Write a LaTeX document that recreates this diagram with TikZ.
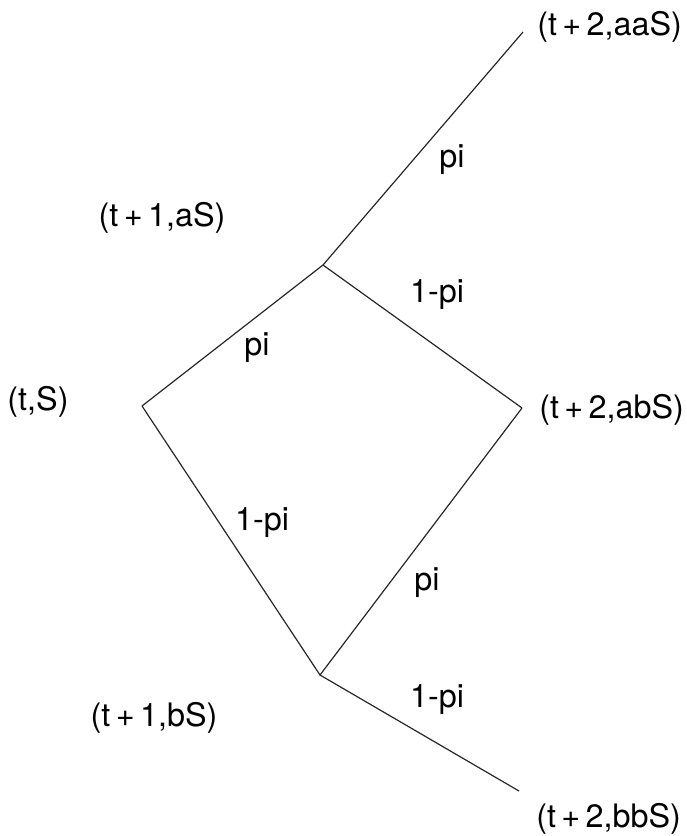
\documentclass[tikz,border=0pt]{standalone}
\usepackage{fontspec}
\setmainfont{TeX Gyre Heros}
\usetikzlibrary{positioning}

\tikzset{
  branch/.style={black!85,line width=0.85pt},
  state/.style={font=\fontsize{23}{27}\selectfont,inner sep=0pt},
  prob/.style={font=\fontsize{23}{27}\selectfont,inner sep=0pt}
}

\begin{document}
\begin{tikzpicture}[x=0.025cm,y=-0.025cm]

  \useasboundingbox (0,0) rectangle (686,836);

  % Tree vertices
  \coordinate (root) at (142,406);
  \coordinate (up)   at (323,265);
  \coordinate (dn)   at (320,675);
  \coordinate (uu)   at (523,32);
  \coordinate (ud)   at (522,408);
  \coordinate (dd)   at (519,791);

  % Branches
  \draw[branch] (root) -- (up) -- (uu);
  \draw[branch] (up) -- (ud);
  \draw[branch] (root) -- (dn) -- (ud);
  \draw[branch] (dn) -- (dd);

  % States
  \node[state] (sroot) at (38,402)  {(t,S)};
  \node[state] (sup)   at (162,218) {(t\,+\,1,aS)};
  \node[state] (sdn)   at (154,718) {(t\,+\,1,bS)};
  \node[state,anchor=west] (suu) at (537,27)  {(t\,+\,2,aaS)};
  \node[state,anchor=west] (sud) at (539,410) {(t\,+\,2,abS)};
  \node[state,anchor=west] (sdd) at (536,819) {(t\,+\,2,bbS)};

  % Probabilities
  \node[prob] (p1) at (257,348) {pi};
  \node[prob] (p2) at (262,523) {1-pi};
  \node[prob] (p3) at (452,160) {pi};
  \node[prob] (p4) at (437,295) {1-pi};
  \node[prob] (p5) at (427,583) {pi};
  \node[prob] (p6) at (437,700) {1-pi};

\end{tikzpicture}
\end{document}
